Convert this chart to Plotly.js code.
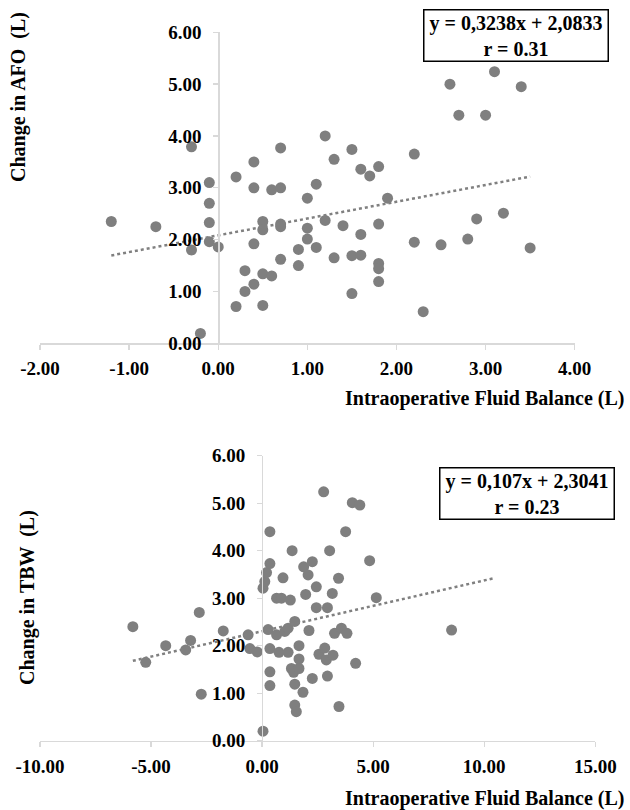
<!DOCTYPE html>
<html>
<head>
<meta charset="utf-8">
<script src="https://cdn.plot.ly/plotly-3.0.1.min.js"></script>
<style>html,body{margin:0;padding:0;background:#fff}#chart{width:630px;height:810px}</style>
</head>
<body>
<div id="chart"></div>
<script>
// ---- Top chart: Change in AFO vs Intraoperative Fluid Balance ----
const afoX = [-1.20,-0.70,-0.30,-0.30,-0.20,-0.10,-0.10,-0.10,-0.10,0.00,
  0.20,0.20,0.30,0.30,0.40,0.40,0.40,0.40,0.50,0.50,0.50,0.50,0.60,0.60,
  0.70,0.70,0.70,0.70,0.70,0.90,0.90,1.00,1.00,1.00,1.10,1.10,1.20,1.30,
  1.50,1.60,1.70,1.80,1.90,1.20,1.40,1.60,1.80,1.30,1.50,1.60,1.80,1.80,
  1.80,1.50,2.20,2.20,2.50,2.30,2.60,2.70,3.00,3.10,3.40,2.80,2.90,3.20,3.50];
const afoY = [2.35,2.25,3.79,1.80,0.19,3.10,2.70,2.33,1.96,1.86,
  3.21,0.71,1.40,1.00,3.50,3.00,1.92,1.14,2.35,2.19,1.34,0.73,2.96,1.30,
  3.77,3.00,2.30,2.25,1.62,1.81,1.50,2.80,2.22,2.01,3.07,1.85,4.00,3.55,
  3.74,3.36,3.23,3.41,2.80,2.37,2.27,2.10,2.30,1.65,1.69,1.70,1.54,1.44,
  1.19,0.96,3.65,1.95,1.90,0.61,5.00,4.40,4.40,5.24,4.95,2.01,2.40,2.51,1.84];
const afoSlope = 0.3238, afoIntercept = 2.0833;
const afoTrendX = [-1.20, 3.50];
const afoLabel = "y = 0,3238x + 2,0833<br>r = 0.31";

// ---- Bottom chart: Change in TBW vs Intraoperative Fluid Balance ----
const tbwX = [-5.82,-5.24,-4.34,-3.44,-3.22,-2.83,-2.74,-1.75,-0.63,-0.55,-0.22,
  0.04,0.04,0.12,0.20,0.35,0.35,0.27,0.35,0.35,0.35,0.65,0.87,0.94,1.27,1.35,
  0.65,0.76,1.17,1.02,1.17,1.47,1.66,1.66,1.32,1.42,1.66,1.47,1.47,1.54,1.84,
  1.87,2.07,1.96,2.11,2.26,2.26,2.44,2.44,2.56,2.82,2.89,3.19,2.94,2.77,3.04,
  3.16,2.94,3.26,3.57,3.82,3.44,3.46,3.76,4.06,4.40,4.21,4.84,5.14,8.53];
const tbwY = [2.40,1.65,2.00,1.91,2.11,2.70,0.98,2.31,2.23,1.94,1.87,
  0.20,3.21,3.35,3.54,3.73,4.40,2.34,1.94,1.45,1.16,3.00,3.00,3.43,2.96,4.00,
  2.23,1.86,1.86,2.30,2.37,2.51,2.00,1.72,1.52,1.44,1.52,1.19,0.75,0.61,1.02,
  3.66,3.49,3.08,2.32,3.77,1.31,3.24,2.80,1.82,1.95,1.70,1.80,1.36,5.24,4.00,
  3.10,2.80,2.26,2.37,2.26,3.42,0.72,4.40,5.01,4.96,1.63,3.79,3.01,2.33];
const tbwSlope = 0.107, tbwIntercept = 2.3041;
const tbwTrendX = [-5.82, 10.40];
const tbwLabel = "y = 0,107x + 2,3041<br>r = 0.23";

const xTitle = "Intraoperative Fluid Balance (L)";
const afoTitle = "Change in AFO  (L)";
const tbwTitle = "Change in TBW  (L)";

const topXTicks = [-2,-1,0,1,2,3,4];
const botXTicks = [-10,-5,0,5,10,15];
const yTicks = [0,1,2,3,4,5,6];

const W = 630, H = 810;
const FAM = "'Liberation Serif', 'Times New Roman', Times, serif";
const tickFont = {family: FAM, size: 19, color: "#000", weight: 700};
const titleFont = {family: FAM, size: 20, color: "#000", weight: 700};
const boxFont = {family: FAM, size: 20, color: "#000", weight: 700};
const markerStyle = {color: "#7f7f7f", size: 11};
const lineStyle = {color: "#808080", width: 2.5, dash: "dot"};
const fmt = v => v.toFixed(2);

const traces = [
  {x: afoX, y: afoY, type: "scatter", mode: "markers", marker: markerStyle, xaxis: "x", yaxis: "y"},
  {x: afoTrendX, y: afoTrendX.map(v => afoSlope*v + afoIntercept), type: "scatter", mode: "lines", line: lineStyle, xaxis: "x", yaxis: "y"},
  {x: tbwX, y: tbwY, type: "scatter", mode: "markers", marker: markerStyle, xaxis: "x2", yaxis: "y2"},
  {x: tbwTrendX, y: tbwTrendX.map(v => tbwSlope*v + tbwIntercept), type: "scatter", mode: "lines", line: lineStyle, xaxis: "x2", yaxis: "y2"}
];

const axisCommon = {
  showgrid: false, zeroline: false, showline: true, linecolor: "#d9d9d9", linewidth: 1.3,
  ticks: "outside", ticklen: 5, tickcolor: "#d9d9d9", tickwidth: 1.3,
  tickfont: tickFont, fixedrange: true
};

// pixel geometry
const topX0 = 40, topX1 = 574.7, topY0 = 32.3, topY1 = 343.3;
const botX0 = 40, botX1 = 595.3, botY0 = 455.7, botY1 = 740.7;
const topZeroPx = topX0 + (0 - (-2)) / 6 * (topX1 - topX0);
const botZeroPx = botX0 + (0 - (-10)) / 25 * (botX1 - botX0);

const layout = {
  width: W, height: H,
  margin: {l: 0, r: 0, t: 0, b: 0},
  paper_bgcolor: "#fff", plot_bgcolor: "rgba(0,0,0,0)",
  showlegend: false,
  xaxis: Object.assign({}, axisCommon, {
    domain: [topX0/W, topX1/W], range: [-2, 4], anchor: "y",
    tickvals: topXTicks, ticktext: topXTicks.map(fmt), ticklabelstandoff: 3
  }),
  yaxis: Object.assign({}, axisCommon, {
    domain: [1 - topY1/H, 1 - topY0/H], range: [0, 6], anchor: "free", position: topZeroPx/W,
    tickvals: yTicks, ticktext: yTicks.map(fmt), ticklabelstandoff: 8
  }),
  xaxis2: Object.assign({}, axisCommon, {
    domain: [botX0/W, botX1/W], range: [-10, 15], anchor: "y2",
    tickvals: botXTicks, ticktext: botXTicks.map(fmt), ticklabelstandoff: 3
  }),
  yaxis2: Object.assign({}, axisCommon, {
    domain: [1 - botY1/H, 1 - botY0/H], range: [0, 6], anchor: "free", position: botZeroPx/W,
    tickvals: yTicks, ticktext: yTicks.map(fmt), ticklabelstandoff: 8
  }),
  annotations: [
    {text: xTitle, xref: "paper", yref: "paper", x: 626/W, y: 1 - 398/H, xanchor: "right", yanchor: "middle", showarrow: false, font: titleFont},
    {text: xTitle, xref: "paper", yref: "paper", x: 626/W, y: 1 - 798/H, xanchor: "right", yanchor: "middle", showarrow: false, font: titleFont},
    {text: afoTitle, xref: "paper", yref: "paper", x: 18/W, y: 1 - 97/H, xanchor: "center", yanchor: "middle", textangle: -90, showarrow: false, font: titleFont},
    {text: tbwTitle, xref: "paper", yref: "paper", x: 27/W, y: 1 - 598/H, xanchor: "center", yanchor: "middle", textangle: -90, showarrow: false, font: titleFont},
    {text: afoLabel, xref: "paper", yref: "paper", x: 515.8/W, y: 1 - 35.5/H, xanchor: "center", yanchor: "middle", showarrow: false,
      font: boxFont, bordercolor: "#000", borderwidth: 1.5, borderpad: 0, bgcolor: "#fff", width: 183, height: 50},
    {text: tbwLabel, xref: "paper", yref: "paper", x: 526.7/W, y: 1 - 493.8/H, xanchor: "center", yanchor: "middle", showarrow: false,
      font: boxFont, bordercolor: "#000", borderwidth: 1.5, borderpad: 0, bgcolor: "#fff", width: 173, height: 50}
  ]
};

Plotly.newPlot("chart", traces, layout, {staticPlot: true, displayModeBar: false});
</script>
</body>
</html>
